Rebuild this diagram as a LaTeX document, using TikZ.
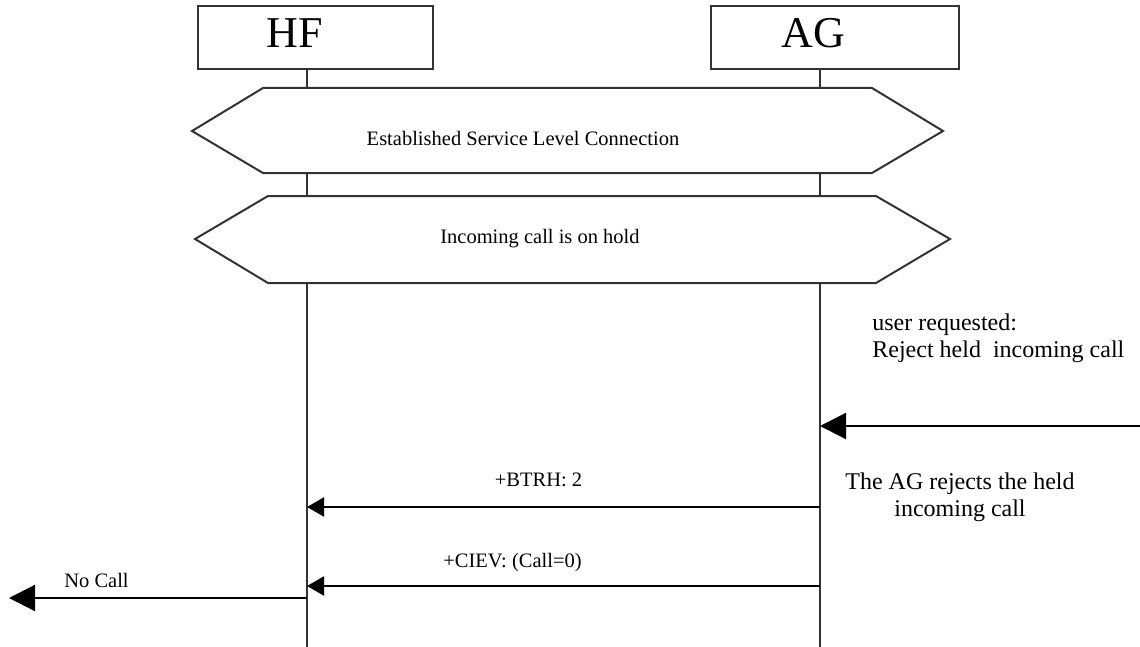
\documentclass[tikz,border=0pt]{standalone}
\usepackage{fontspec}
\setmainfont{Liberation Serif}
\usetikzlibrary{arrows.meta}

\begin{document}
\begin{tikzpicture}[x=0.5pt, y=-0.5pt,
  actor/.style={draw=black!80, line width=1pt, minimum width=117.5pt, minimum height=31.5pt, inner sep=0pt},
  actorname/.style={font=\fontsize{22}{26}\selectfont, inner sep=0pt},
  lifeline/.style={draw=black!80, line width=0.8pt},
  phase/.style={draw=black!80, line width=1pt, fill=white, line join=miter},
  phasetxt/.style={font=\fontsize{10.25}{12}\selectfont, inner sep=0pt},
  msg/.style={line width=1.1pt, -{Triangle[length=8.5pt,width=9.5pt]}},
  bigmsg/.style={line width=1.1pt, -{Triangle[length=13pt,width=13pt]}},
  msgtxt/.style={font=\fontsize{10.25}{12}\selectfont, inner sep=0pt},
  note/.style={font=\fontsize{12}{13.5}\selectfont, inner sep=0pt}]
  \useasboundingbox (0,0) rectangle (1140,647);
  % Actors
  \node[actor] (hf) at (315.5,37.5) {};
  \node[actor, minimum width=124pt] (ag) at (835,37.5) {};
  \node[actorname] (hfname) at (295,33) {HF};
  \node[actorname] (agname) at (813,33) {AG};
  % Lifelines
  \coordinate (hfend) at (307,647);
  \coordinate (agend) at (820,647);
  \draw[lifeline] (hf.south -| hfend) -- (hfend);
  \draw[lifeline] (ag.south -| agend) -- (agend);
  % Phases
  \draw[phase] (192,131) -- (263,88) -- (872,88) -- (943,131) -- (872,173) -- (263,173) -- cycle;
  \node[phasetxt] (slc) at (523,138) {Established Service Level Connection};
  \draw[phase] (195,239) -- (268,196) -- (876,196) -- (950,239) -- (876,283) -- (268,283) -- cycle;
  \node[phasetxt] (hold) at (540,239) {Incoming call is on hold};
  % User action
  \node[note, anchor=north west, align=left] (usrreq) at (872,313)
    {user requested:\\Reject held\ \ incoming call};
  \coordinate (usr) at (1140,426);
  \coordinate (ag1) at (820,426);
  \draw[bigmsg] (usr) -- (ag1);
  \node[note, align=center] (reject) at (960,497)
    {The AG rejects the held\\incoming call};
  % Messages
  \coordinate (ag2) at (820,507);
  \coordinate (hf2) at (307,507);
  \draw[msg] (ag2) -- (hf2);
  \node[msgtxt] (btrh) at (538.5,480) {+BTRH: 2};
  \coordinate (ag3) at (820,586);
  \coordinate (hf3) at (307,586);
  \draw[msg] (ag3) -- (hf3);
  \node[msgtxt] (ciev) at (512.5,563) {+CIEV: (Call=0)};
  % Indication
  \coordinate (hf4) at (307,598);
  \coordinate (nocall) at (9,598);
  \draw[bigmsg] (hf4) -- (nocall);
  \node[msgtxt] (nocalltxt) at (96.5,580) {No Call};
\end{tikzpicture}
\end{document}
